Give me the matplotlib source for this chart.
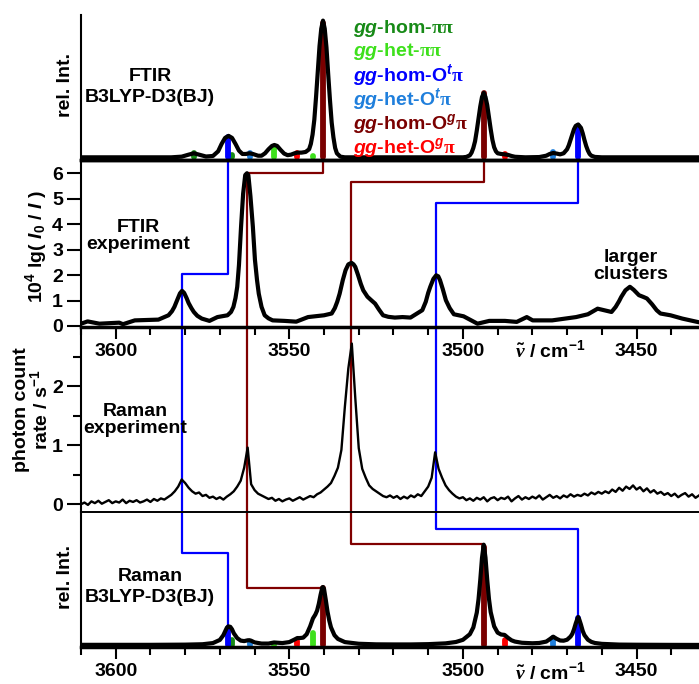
import numpy as np
import matplotlib
matplotlib.use('Agg')
import matplotlib.pyplot as plt
from matplotlib.lines import Line2D
from matplotlib.ticker import MultipleLocator, FixedLocator

plt.rcParams['font.family'] = ['Liberation Sans', 'DejaVu Sans']
plt.rcParams['font.weight'] = 'bold'
plt.rcParams['font.size'] = 14
plt.rcParams['mathtext.fontset'] = 'custom'
plt.rcParams['mathtext.rm'] = 'Liberation Sans:bold'
plt.rcParams['mathtext.it'] = 'Liberation Sans:italic:bold'
plt.rcParams['mathtext.bf'] = 'Liberation Sans:bold'
plt.rcParams['mathtext.sf'] = 'Liberation Serif'
plt.rcParams['mathtext.tt'] = 'Liberation Serif:italic'

# ---- conformers (legend order) ----
conf_labels = [r'$\mathit{gg}$-hom-$\mathsf{\pi\pi}$',
               r'$\mathit{gg}$-het-$\mathsf{\pi\pi}$',
               r'$\mathit{gg}$-hom-O$^{\mathit{t}}\mathsf{\pi}$',
               r'$\mathit{gg}$-het-O$^{\mathit{t}}\mathsf{\pi}$',
               r'$\mathit{gg}$-hom-O$^{\mathit{g}}\mathsf{\pi}$',
               r'$\mathit{gg}$-het-O$^{\mathit{g}}\mathsf{\pi}$']
conf_colors = ['#178a17', '#3ee01c', '#0000ff', '#1f7fdc', '#7a0000', '#ff0000']

# ---- calculated OH stretch sticks (two per conformer) ----
stick_wn    = [3577.5, 3566.5, 3554.4, 3543.1, 3567.6, 3466.8, 3561.4, 3474.0, 3540.3, 3494.0, 3547.7, 3488.0]
stick_conf  = [0, 0, 1, 1, 2, 2, 3, 3, 4, 4, 5, 5]
ftir_stick  = [0.034, 0.015, 0.075, 0.012, 0.154, 0.231, 0.030, 0.037, 1.000, 0.478, 0.034, 0.028]
raman_stick = [0.005, 0.050, 0.015, 0.125, 0.170, 0.270, 0.035, 0.070, 0.577, 1.000, 0.040, 0.050]

# ---- broadened calculated spectra (wavenumber, rel. int.) ----
ftir_calc = [(3610, 0), (3584, 0), (3581, 0.005), (3579, 0.02), (3577.5, 0.03), (3576, 0.02),
             (3574, 0.006), (3572, 0.01), (3570.5, 0.045), (3569.5, 0.10), (3568.5, 0.145),
             (3567.5, 0.16), (3566.5, 0.145), (3565.5, 0.10), (3564.5, 0.05), (3563.5, 0.025),
             (3562.5, 0.025), (3561.5, 0.03), (3560.5, 0.025), (3559, 0.012), (3558, 0.012),
             (3557, 0.03), (3556, 0.06), (3555, 0.085), (3554.3, 0.092), (3553.5, 0.085),
             (3552.5, 0.055), (3551.5, 0.028), (3550.5, 0.016), (3549.5, 0.02), (3548.5, 0.03),
             (3547.7, 0.035), (3546.5, 0.035), (3545.3, 0.04), (3544.3, 0.06), (3543.8, 0.10),
             (3543.3, 0.17), (3542.8, 0.28), (3542.3, 0.45), (3541.8, 0.64), (3541.3, 0.83),
             (3540.8, 0.96), (3540.3, 1.02), (3539.8, 0.96), (3539.3, 0.82), (3538.8, 0.62),
             (3538.3, 0.43), (3537.8, 0.26), (3537.3, 0.15), (3536.8, 0.07), (3536.3, 0.03),
             (3535.3, 0.005), (3534, 0), (3500, 0), (3499, 0.003), (3498, 0.015), (3497.5, 0.035),
             (3497, 0.07), (3496.5, 0.12), (3496, 0.20), (3495.5, 0.29), (3495, 0.38),
             (3494.5, 0.45), (3494, 0.48), (3493.5, 0.45), (3493, 0.39), (3492.5, 0.30),
             (3492, 0.21), (3491.5, 0.13), (3491, 0.075), (3490.5, 0.045), (3490, 0.03),
             (3489, 0.025), (3488, 0.022), (3487, 0.018), (3486, 0.01), (3485, 0.004), (3482, 0),
             (3478, 0.002), (3476, 0.012), (3475, 0.025), (3474, 0.032), (3473, 0.028),
             (3472, 0.022), (3471, 0.03), (3470, 0.06), (3469.5, 0.09), (3469, 0.13),
             (3468.5, 0.17), (3468, 0.21), (3467.5, 0.235), (3466.8, 0.245), (3466, 0.22),
             (3465.5, 0.18), (3465, 0.13), (3464.5, 0.085), (3464, 0.05), (3463.5, 0.025),
             (3463, 0.012), (3462, 0.003), (3460, 0), (3432, 0)]

raman_calc = [(3610, 0.002), (3590, 0.002), (3580, 0.004), (3575, 0.008), (3572, 0.02), (3570, 0.052),
              (3569, 0.10), (3568.5, 0.138), (3568, 0.175), (3567.6, 0.19), (3567, 0.185),
              (3566.5, 0.16), (3566, 0.12), (3565, 0.07), (3564, 0.045), (3563, 0.04), (3562, 0.048),
              (3561.5, 0.049), (3561, 0.044), (3560, 0.027), (3558, 0.015), (3556, 0.015),
              (3554.4, 0.026), (3552, 0.02), (3550, 0.03), (3548.5, 0.056), (3547.7, 0.071),
              (3547, 0.071), (3546, 0.075), (3545, 0.11), (3544, 0.19), (3543.2, 0.27),
              (3542.5, 0.31), (3542, 0.35), (3541.5, 0.42), (3541, 0.51), (3540.5, 0.585),
              (3540.3, 0.59), (3540, 0.57), (3539.5, 0.46), (3539, 0.34), (3538.5, 0.25),
              (3538, 0.18), (3537, 0.10), (3536, 0.062), (3534, 0.03), (3530, 0.013), (3525, 0.007),
              (3520, 0.006), (3515, 0.006), (3510, 0.009), (3505, 0.017), (3502, 0.031),
              (3500, 0.053), (3498, 0.11), (3497, 0.179), (3496, 0.33), (3495.5, 0.466),
              (3495, 0.662), (3494.5, 0.887), (3494, 1.02), (3493.5, 0.89), (3493, 0.665),
              (3492.5, 0.47), (3492, 0.335), (3491, 0.19), (3490, 0.126), (3489, 0.107),
              (3488, 0.103), (3487, 0.073), (3486, 0.048), (3485, 0.035), (3483, 0.023),
              (3480, 0.018), (3478, 0.021), (3476, 0.035), (3475, 0.059), (3474, 0.085),
              (3473, 0.063), (3472, 0.046), (3471, 0.044), (3470, 0.054), (3469, 0.086),
              (3468.5, 0.113), (3468, 0.16), (3467.5, 0.22), (3467, 0.27), (3466.8, 0.285),
              (3466.5, 0.262), (3466, 0.207), (3465.5, 0.144), (3465, 0.101), (3464, 0.054),
              (3463, 0.032), (3462, 0.021), (3460, 0.012), (3455, 0.0045), (3450, 0.003),
              (3440, 0.0015), (3432, 0.001)]

# ---- FTIR experiment, 10^4 lg(I0/I) ----
ftir_exp = [(3610.4, 0.07), (3608.1, 0.18), (3604.7, 0.09), (3599.0, 0.13), (3597.9, 0.07),
            (3594.5, 0.22), (3587.7, 0.25), (3584.8, 0.42), (3583.8, 0.58), (3583.1, 0.75),
            (3582.2, 1.05), (3581.5, 1.28), (3580.9, 1.38), (3580.3, 1.30), (3579.6, 1.10),
            (3579.0, 0.90), (3578.2, 0.70), (3577.5, 0.55), (3576.5, 0.40), (3575.2, 0.29),
            (3573.0, 0.20), (3570.7, 0.35), (3567.8, 0.42), (3566.8, 0.55), (3566.1, 0.75),
            (3565.5, 1.10), (3565.0, 1.54), (3564.5, 2.40), (3563.9, 3.90), (3563.3, 5.20),
            (3562.7, 5.93), (3562.2, 6.00), (3561.8, 5.93), (3561.2, 5.10), (3560.5, 3.90),
            (3559.9, 2.60), (3559.3, 1.80), (3558.8, 1.27), (3558.0, 0.75), (3557.1, 0.42),
            (3556.0, 0.30), (3554.8, 0.22), (3551.4, 0.20), (3548.0, 0.17), (3544.6, 0.35),
            (3540.0, 0.42), (3537.8, 0.49), (3536.9, 0.70), (3536.2, 0.95), (3535.5, 1.27),
            (3534.6, 1.80), (3533.8, 2.19), (3533.0, 2.42), (3532.1, 2.48), (3531.5, 2.42),
            (3531.0, 2.32), (3530.2, 2.00), (3529.4, 1.65), (3528.7, 1.40), (3527.5, 1.15),
            (3526.3, 1.00), (3525.3, 0.88), (3524.2, 0.65), (3523.0, 0.42), (3521.5, 0.36),
            (3519.6, 0.33), (3517.4, 0.35), (3515.1, 0.33), (3511.7, 0.62), (3510.7, 0.95),
            (3510.0, 1.30), (3509.4, 1.54), (3508.5, 1.85), (3507.7, 1.99), (3507.1, 1.95),
            (3506.6, 1.80), (3505.8, 1.45), (3504.9, 1.01), (3503.8, 0.70), (3502.6, 0.46),
            (3499.8, 0.38), (3495.8, 0.09), (3492.4, 0.20), (3487.9, 0.20), (3484.5, 0.16),
            (3481.6, 0.35), (3479.9, 0.22), (3474.3, 0.22), (3467.4, 0.35), (3464.0, 0.46),
            (3461.2, 0.68), (3457.2, 0.55), (3456.0, 0.75), (3455.0, 0.98), (3454.4, 1.14),
            (3453.2, 1.40), (3451.9, 1.54), (3450.8, 1.42), (3449.3, 1.21), (3448.0, 1.14),
            (3447.0, 1.08), (3445.5, 0.85), (3444.2, 0.62), (3443.1, 0.49), (3440.2, 0.42),
            (3436.8, 0.29), (3432.5, 0.16)]

# ---- Raman experiment, photon count rate / s^-1, 1 cm-1 steps from 3610 down to 3432 ----
raman_exp_wn = np.arange(3610, 3431, -1)
raman_exp = [0.00, 0.03, -0.01, 0.05, 0.02, 0.06, 0.01, 0.04, 0.07, 0.02,
             0.05, 0.03, 0.08, 0.02, 0.06, 0.04, 0.07, 0.03, 0.05, 0.08,
             0.04, 0.09, 0.06, 0.10, 0.08, 0.12, 0.16, 0.22, 0.30, 0.42,
             0.36, 0.28, 0.22, 0.18, 0.20, 0.14, 0.16, 0.11, 0.13, 0.09,
             0.12, 0.08, 0.13, 0.17, 0.22, 0.30, 0.40, 0.62, 0.96, 0.34,
             0.24, 0.18, 0.15, 0.12, 0.09, 0.11, 0.06, 0.09, 0.05, 0.08,
             0.10, 0.06, 0.09, 0.12, 0.08, 0.11, 0.14, 0.12, 0.17, 0.20,
             0.25, 0.30, 0.36, 0.48, 0.62, 0.92, 1.65, 2.30, 2.72, 1.80,
             0.95, 0.60, 0.45, 0.32, 0.26, 0.22, 0.18, 0.14, 0.12, 0.15,
             0.11, 0.14, 0.09, 0.13, 0.10, 0.15, 0.12, 0.17, 0.14, 0.22,
             0.30, 0.45, 0.88, 0.60, 0.45, 0.32, 0.24, 0.18, 0.13, 0.10,
             0.12, 0.07, 0.10, 0.06, 0.11, 0.08, 0.12, 0.05, 0.10, 0.12,
             0.07, 0.11, 0.09, 0.13, 0.05, 0.10, 0.14, 0.08, 0.12, 0.09,
             0.13, 0.10, 0.15, 0.08, 0.12, 0.16, 0.11, 0.14, 0.10, 0.15,
             0.12, 0.17, 0.13, 0.16, 0.14, 0.18, 0.15, 0.20, 0.17, 0.21,
             0.18, 0.22, 0.19, 0.25, 0.21, 0.28, 0.23, 0.30, 0.26, 0.32,
             0.25, 0.29, 0.22, 0.27, 0.20, 0.24, 0.18, 0.21, 0.16, 0.19,
             0.14, 0.18, 0.12, 0.16, 0.19, 0.13, 0.17, 0.11, 0.15]

# ---- assignment lines: calculated band -> experimental band ----
assign_calc = [3567.6, 3540.3, 3494.0, 3466.8]
assign_exp = [3581.0, 3562.3, 3532.1, 3507.7]
assign_color = ['#0000ff', '#800000', '#800000', '#0000ff']
step_ftir = [2.06, 6.02, 5.67, 4.84]     # height of the sideways step in the FTIR exp. panel
step_raman = [0.94, 0.583, 1.027, 1.18]  # height of the sideways step in the Raman calc. panel

# ==========================================
W, H = 699, 684
fig = plt.figure(figsize=(W / 100, H / 100), dpi=100)


def box(top, bottom, left=81, right=699):
    return [left / W, 1 - bottom / H, (right - left) / W, (bottom - top) / H]


ax1 = fig.add_axes(box(15, 160))
ax2 = fig.add_axes(box(160, 327))
ax3 = fig.add_axes(box(327, 512))
ax4 = fig.add_axes(box(512, 647))

for ax in (ax1, ax2, ax3, ax4):
    ax.set_facecolor('none')
    ax.set_xlim(3610, 3432)
    ax.spines['right'].set_visible(False)
    ax.spines['left'].set_linewidth(1.5)
    ax.tick_params(axis='y', which='major', direction='out', length=10, width=1.5, pad=3)
    ax.tick_params(axis='y', which='minor', direction='out', length=6, width=1.5)

ax1.set_ylim(-0.02, 1.062)
ax2.set_ylim(-0.04, 6.52)
ax3.set_ylim(-0.13, 3.0)
ax4.set_ylim(-0.02, 1.353)

ax1.spines['top'].set_visible(False)
ax1.spines['bottom'].set_linewidth(2.5)
ax2.spines['top'].set_linewidth(2.5)
ax2.spines['bottom'].set_linewidth(2.5)
ax3.spines['top'].set_visible(False)
ax3.spines['bottom'].set_linewidth(1.2)
ax4.spines['top'].set_linewidth(1.2)
ax4.spines['bottom'].set_linewidth(2.5)

for ax in (ax1, ax3):
    ax.tick_params(axis='x', which='both', bottom=False, labelbottom=False)
for ax in (ax2, ax4):
    ax.xaxis.set_major_locator(MultipleLocator(50))
    ax.xaxis.set_minor_locator(MultipleLocator(10))
    ax.tick_params(axis='x', which='major', direction='out', length=8.5, width=1.5, pad=3)
    ax.tick_params(axis='x', which='minor', direction='out', length=6, width=1.5)
for ax in (ax1, ax4):
    ax.set_yticks([])
ax2.yaxis.set_major_locator(FixedLocator(range(7)))
ax3.yaxis.set_major_locator(FixedLocator([0, 1, 2]))
ax3.yaxis.set_minor_locator(FixedLocator([0.5, 1.5, 2.5]))

# sticks + broadened spectra
for wn, c, fi, ri in zip(stick_wn, stick_conf, ftir_stick, raman_stick):
    ax1.plot([wn, wn], [0, fi], color=conf_colors[c], lw=4.2, solid_capstyle='round', zorder=2)
    ax4.plot([wn, wn], [0, ri], color=conf_colors[c], lw=4.2, solid_capstyle='round', zorder=2)

fc = np.array(ftir_calc)
ax1.plot(fc[:, 0], fc[:, 1], color='black', lw=3, zorder=3)
rc = np.array(raman_calc)
ax4.plot(rc[:, 0], rc[:, 1], color='black', lw=3, zorder=3)
fe = np.array(ftir_exp)
ax2.plot(fe[:, 0], fe[:, 1], color='black', lw=3, zorder=3)
ax3.plot(raman_exp_wn, raman_exp, color='black', lw=1.7, zorder=3)

# assignment lines, drawn behind everything across the panels
to_fig = fig.transFigure.inverted()
for cw, ew, s2, s4, col in zip(assign_calc, assign_exp, step_ftir, step_raman, assign_color):
    top4 = raman_stick[stick_wn.index(cw)]
    pts = np.array([ax1.transData.transform((cw, 0)),
                    ax2.transData.transform((cw, s2)),
                    ax2.transData.transform((ew, s2)),
                    ax4.transData.transform((ew, s4)),
                    ax4.transData.transform((cw, s4)),
                    ax4.transData.transform((cw, top4))])
    pts = to_fig.transform(pts)
    fig.add_artist(Line2D(pts[:, 0], pts[:, 1], color=col, lw=1.6, zorder=-1))

# legend of conformers
legend_base = [33, 56, 81, 105, 129, 153]
for lab, col, yb in zip(conf_labels, conf_colors, legend_base):
    fig.text(353 / W, 1 - yb / H, lab, color=col, ha='left', va='baseline', fontsize=14)

# panel annotations
fig.text(150 / W, 1 - 87 / H, 'FTIR\nB3LYP-D3(BJ)', ha='center', va='center', linespacing=1.25)
fig.text(138 / W, 1 - 236 / H, 'FTIR\nexperiment', ha='center', va='center', linespacing=1.05)
fig.text(135 / W, 1 - 420 / H, 'Raman\nexperiment', ha='center', va='center', linespacing=1.0)
fig.text(150 / W, 1 - 587 / H, 'Raman\nB3LYP-D3(BJ)', ha='center', va='center', linespacing=1.25)
fig.text(631 / W, 1 - 266 / H, 'larger\nclusters', ha='center', va='center', linespacing=1.0)

# y labels
fig.text(65.5 / W, 1 - 85 / H, 'rel. Int.', rotation=90, ha='center', va='center')
fig.text(36 / W, 1 - 247 / H, r'10$^{4}$ lg( $I_0$ / $I$ )', rotation=90, ha='center', va='center')
fig.text(32 / W, 1 - 410 / H, 'photon count\nrate / s$^{-1}$', rotation=90, ha='center',
         va='center', linespacing=1.0)
fig.text(65.5 / W, 1 - 577 / H, 'rel. Int.', rotation=90, ha='center', va='center')

# x labels next to the tick labels
xlab = r'$\tilde{\mathtt{\nu}}$ / cm$^{-1}$'
fig.text(550 / W, 1 - 357 / H, xlab, ha='center', va='baseline')
fig.text(550 / W, 1 - 679 / H, xlab, ha='center', va='baseline')

fig.savefig('out.png', dpi=100)
